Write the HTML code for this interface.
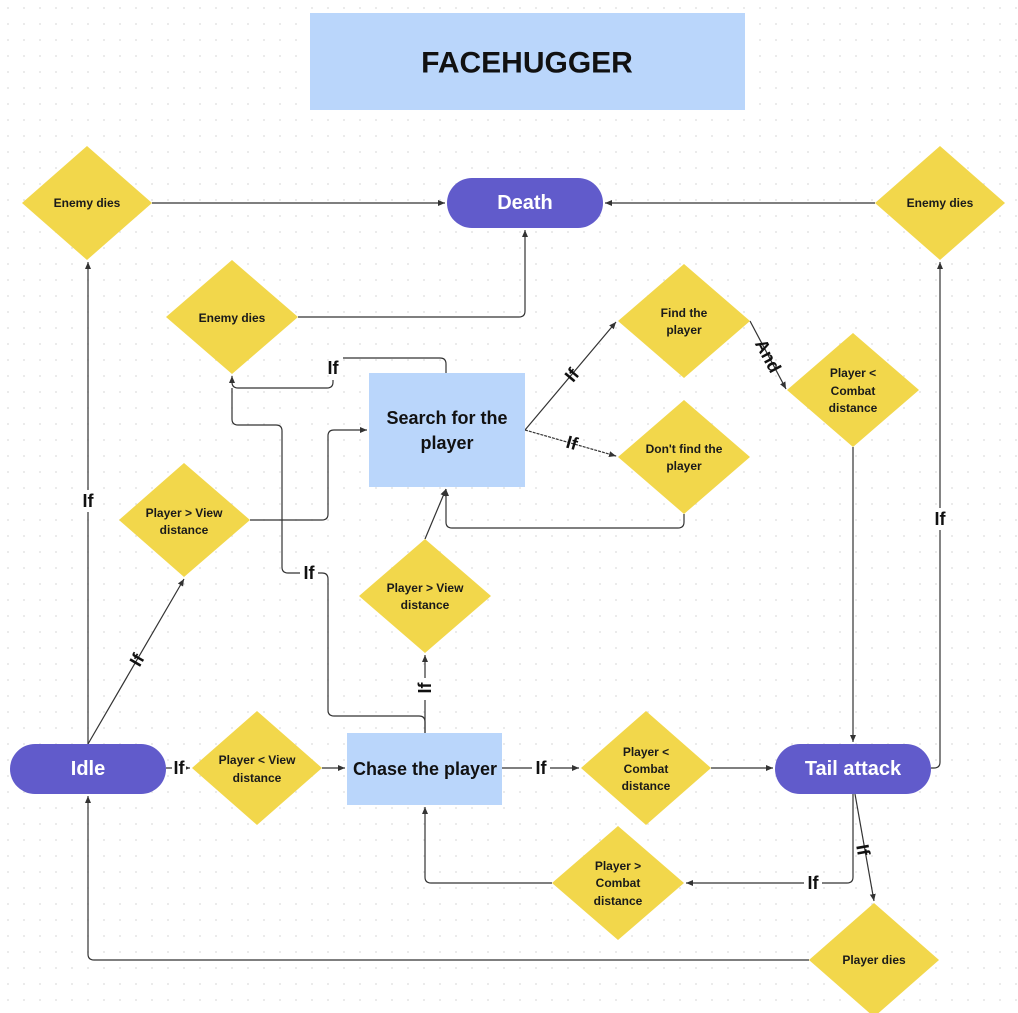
<!DOCTYPE html>
<html><head><meta charset="utf-8"><style>
body{margin:0;background:#fff}
svg{display:block;font-family:"Liberation Sans",sans-serif}
.d{fill:#F2D74B}
.dt{font-size:12px;font-weight:bold;fill:#1a1a1a;text-anchor:middle}
.l{fill:none;stroke:#333;stroke-width:1.2}
.lb{font-size:18px;font-weight:bold;fill:#111;text-anchor:middle;dominant-baseline:central}
.pill{fill:#615BCB}
.pt{font-size:20px;font-weight:bold;fill:#fff;text-anchor:middle;dominant-baseline:central}
.rt{font-size:18px;font-weight:bold;fill:#111;text-anchor:middle}
</style></head><body>
<svg width="1018" height="1013" viewBox="0 0 1018 1013">
<defs>
<pattern id="dots" width="16" height="16" patternUnits="userSpaceOnUse"><circle cx="8" cy="8" r="0.9" fill="#dcdcdc"/></pattern>
<marker id="a" markerWidth="8" markerHeight="8" refX="7" refY="4" orient="auto" markerUnits="userSpaceOnUse"><path d="M0,1 L7,4 L0,7 z" fill="#333"/></marker>
</defs>
<rect width="1018" height="1013" fill="url(#dots)"/>
<rect x="310" y="13" width="435" height="97" fill="#BAD6FB"/>
<text x="527" y="63" font-size="30" font-weight="bold" text-anchor="middle" dominant-baseline="central" fill="#111">FACEHUGGER</text>

<!-- connectors -->
<g class="l">
<path d="M152,203 H445" marker-end="url(#a)"/>
<path d="M875,203 H605" marker-end="url(#a)"/>
<path d="M298,317 H519 Q525,317 525,311 V230" marker-end="url(#a)"/>
<path d="M88,744 V262" marker-end="url(#a)"/>
<path d="M88,744 L184,579" marker-end="url(#a)"/>
<path d="M250,520 H322 Q328,520 328,514 V436 Q328,430 334,430 H367" marker-end="url(#a)"/>
<path d="M446,373 V364 Q446,358 440,358 H343"/>
<path d="M333,380 V382 Q333,388 327,388 H238 Q232,388 232,382 V376" marker-end="url(#a)"/>
<path d="M425,733 V722 Q425,716 419,716 H334 Q328,716 328,710 V579 Q328,573 322,573 H318"/>
<path d="M300,573 H288 Q282,573 282,567 V431 Q282,425 276,425 H238 Q232,425 232,419 V388"/>
<path d="M425,733 V655" marker-end="url(#a)"/>
<path d="M425,539 L446,489" marker-end="url(#a)"/>
<path d="M684,514 V522 Q684,528 678,528 H452 Q446,528 446,522 V489" marker-end="url(#a)"/>
<path d="M525,430 L616,322" marker-end="url(#a)"/>
<path d="M525,430 L616,456" marker-end="url(#a)" stroke-dasharray="3,1"/>
<path d="M750,321 L786,389" marker-end="url(#a)"/>
<path d="M853,447 V742" marker-end="url(#a)"/>
<path d="M931,768 H934 Q940,768 940,762 V262" marker-end="url(#a)"/>
<path d="M166,768 H190" marker-end="url(#a)"/>
<path d="M322,768 H345" marker-end="url(#a)"/>
<path d="M502,768 H579" marker-end="url(#a)"/>
<path d="M711,768 H773" marker-end="url(#a)"/>
<path d="M853,794 V877 Q853,883 847,883 H686" marker-end="url(#a)"/>
<path d="M552,883 H431 Q425,883 425,877 V807" marker-end="url(#a)"/>
<path d="M855,794 L874,901" marker-end="url(#a)"/>
<path d="M809,960 H94 Q88,960 88,954 V796" marker-end="url(#a)"/>
</g>

<!-- labels (with white bg) -->
<g>
<rect x="80" y="490" width="16" height="22" fill="#fff"/><text class="lb" x="88" y="501">If</text>
<text class="lb" x="137" y="660" transform="rotate(-60 137 660)">If</text>
<text class="lb" x="333" y="368">If</text>
<text class="lb" x="309" y="573">If</text>
<rect x="417" y="678" width="16" height="22" fill="#fff"/><text class="lb" x="425" y="688" transform="rotate(-90 425 688)">If</text>
<text class="lb" x="572" y="375" transform="rotate(-50 572 375)">If</text>
<text class="lb" x="572" y="443" transform="rotate(16 572 443)">If</text>
<text class="lb" x="768" y="356" transform="rotate(62 768 356)">And</text>
<rect x="932" y="508" width="16" height="22" fill="#fff"/><text class="lb" x="940" y="519">If</text>
<rect x="172" y="758" width="14" height="20" fill="#fff"/><text class="lb" x="179" y="768">If</text>
<rect x="532" y="758" width="18" height="20" fill="#fff"/><text class="lb" x="541" y="768">If</text>
<rect x="804" y="873" width="18" height="20" fill="#fff"/><text class="lb" x="813" y="883">If</text>
<text class="lb" x="863" y="850" transform="rotate(80 863 850)">If</text>
</g>

<!-- pills -->
<rect class="pill" x="447" y="178" width="156" height="50" rx="25"/><text class="pt" x="525" y="203">Death</text>
<rect class="pill" x="10" y="744" width="156" height="50" rx="25"/><text class="pt" x="88" y="769">Idle</text>
<rect class="pill" x="775" y="744" width="156" height="50" rx="25"/><text class="pt" x="853" y="769">Tail attack</text>

<!-- rects -->
<rect x="369" y="373" width="156" height="114" fill="#BAD6FB"/>
<text class="rt" x="447" y="424">Search for the</text><text class="rt" x="447" y="449">player</text>
<rect x="347" y="733" width="155" height="72" fill="#BAD6FB"/>
<text class="rt" x="425" y="775">Chase the player</text>

<!-- diamonds -->
<g>
<path class="d" d="M87,146 L152,203 L87,260 L22,203z"/><text class="dt" x="87" y="207">Enemy dies</text>
<path class="d" d="M940,146 L1005,203 L940,260 L875,203z"/><text class="dt" x="940" y="207">Enemy dies</text>
<path class="d" d="M232,260 L298,317 L232,374 L166,317z"/><text class="dt" x="232" y="322">Enemy dies</text>
<path class="d" d="M684,264 L750,321 L684,378 L618,321z"/><text class="dt" x="684" y="317">Find the</text><text class="dt" x="684" y="334">player</text>
<path class="d" d="M684,400 L750,457 L684,514 L618,457z"/><text class="dt" x="684" y="453">Don't find the</text><text class="dt" x="684" y="470">player</text>
<path class="d" d="M853,333 L919,390 L853,447 L787,390z"/><text class="dt" x="853" y="377">Player &lt;</text><text class="dt" x="853" y="395">Combat</text><text class="dt" x="853" y="412">distance</text>
<path class="d" d="M184,463 L250,520 L184,577 L119,520z"/><text class="dt" x="184" y="517">Player &gt; View</text><text class="dt" x="184" y="534">distance</text>
<path class="d" d="M425,539 L491,596 L425,653 L359,596z"/><text class="dt" x="425" y="592">Player &gt; View</text><text class="dt" x="425" y="609">distance</text>
<path class="d" d="M257,711 L322,768 L257,825 L192,768z"/><text class="dt" x="257" y="764">Player &lt; View</text><text class="dt" x="257" y="782">distance</text>
<path class="d" d="M646,711 L711,768 L646,825 L581,768z"/><text class="dt" x="646" y="756">Player &lt;</text><text class="dt" x="646" y="773">Combat</text><text class="dt" x="646" y="790">distance</text>
<path class="d" d="M618,826 L684,883 L618,940 L552,883z"/><text class="dt" x="618" y="870">Player &gt;</text><text class="dt" x="618" y="887">Combat</text><text class="dt" x="618" y="905">distance</text>
<path class="d" d="M874,903 L939,960 L874,1017 L809,960z"/><text class="dt" x="874" y="964">Player dies</text>
</g>
</svg>
</body></html>
